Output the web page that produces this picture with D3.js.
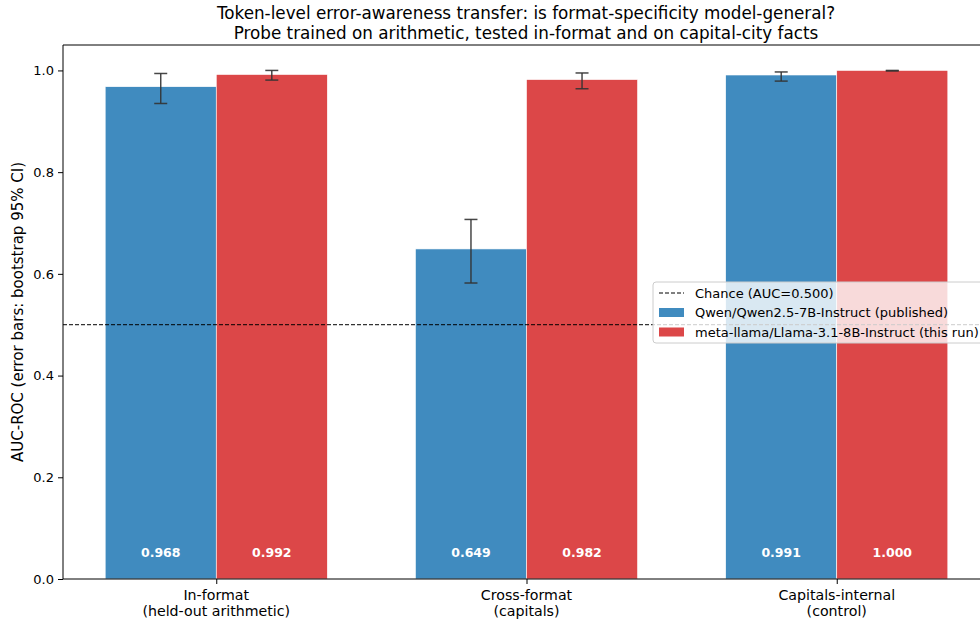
<!DOCTYPE html>
<html>
<head>
<meta charset="utf-8">
<script src="https://cdn.jsdelivr.net/npm/d3@7/dist/d3.min.js"></script>
<style>
  html, body { margin: 0; padding: 0; background: #fff; overflow: hidden; }
  svg { display: block; font-family: "DejaVu Sans", sans-serif; }
</style>
</head>
<body>
<svg id="chart" width="980" height="621"></svg>
<script>
// Probe evaluation settings (x categories)
const categories = ["In-format\n(held-out arithmetic)", "Cross-format\n(capitals)", "Capitals-internal\n(control)"];

// Models compared
const seriesNames = ["Qwen/Qwen2.5-7B-Instruct (published)", "meta-llama/Llama-3.1-8B-Instruct (this run)"];

// AUC-ROC per model and setting
const qwenAuc  = [0.968, 0.649, 0.991];
const llamaAuc = [0.992, 0.982, 1.000];

// Bootstrap 95% CI bounds
const qwenLow   = [0.935, 0.582, 0.979];
const qwenHigh  = [0.994, 0.707, 0.997];
const llamaLow  = [0.981, 0.964, 0.999];
const llamaHigh = [1.000, 0.995, 1.000];

const chanceLevel = 0.5;
const yTicks = [0.0, 0.2, 0.4, 0.6, 0.8, 1.0];

const colors = ["#408bbf", "#dc4748"];
const barWidth = 0.358;

const svg = d3.select("#chart");
const plot = { left: 63, right: 990, top: 45, bottom: 579 };

const x = d3.scaleLinear().domain([-0.494, 2.494]).range([plot.left, plot.right]);
const y = d3.scaleLinear().domain([0, 1.05]).range([plot.bottom, plot.top]);

const series = [
  { name: seriesNames[0], values: qwenAuc, low: qwenLow, high: qwenHigh, color: colors[0], offset: -barWidth / 2 },
  { name: seriesNames[1], values: llamaAuc, low: llamaLow, high: llamaHigh, color: colors[1], offset: barWidth / 2 }
];

const g = svg.append("g");

// Bars
series.forEach(s => {
  g.selectAll(null)
    .data(s.values)
    .enter()
    .append("rect")
    .attr("x", (d, i) => x(i + s.offset - barWidth / 2))
    .attr("width", x(barWidth) - x(0))
    .attr("y", d => y(d))
    .attr("height", d => y(0) - y(d))
    .attr("fill", s.color)
    .attr("stroke", "#ffffff")
    .attr("stroke-width", 0.6);
});

// Error bars
const capHalf = 6.5;
series.forEach(s => {
  s.values.forEach((v, i) => {
    const cx = x(i + s.offset);
    const eg = g.append("g").attr("stroke", "#333333").attr("stroke-opacity", 0.9).attr("stroke-width", 1.5);
    eg.append("line").attr("x1", cx).attr("x2", cx).attr("y1", y(s.low[i])).attr("y2", y(s.high[i]));
    eg.append("line").attr("x1", cx - capHalf).attr("x2", cx + capHalf).attr("y1", y(s.low[i])).attr("y2", y(s.low[i]));
    eg.append("line").attr("x1", cx - capHalf).attr("x2", cx + capHalf).attr("y1", y(s.high[i])).attr("y2", y(s.high[i]));
  });
});

// Value labels inside bars
series.forEach(s => {
  g.selectAll(null)
    .data(s.values)
    .enter()
    .append("text")
    .attr("x", (d, i) => x(i + s.offset))
    .attr("y", y(0.05))
    .attr("dy", "0.3em")
    .attr("text-anchor", "middle")
    .attr("fill", "#ffffff")
    .attr("font-weight", "bold")
    .attr("font-size", "12.5px")
    .text(d => d3.format(".3f")(d));
});

// Chance line
g.append("line")
  .attr("x1", plot.left).attr("x2", plot.right)
  .attr("y1", y(chanceLevel)).attr("y2", y(chanceLevel))
  .attr("stroke", "#000").attr("stroke-width", 1)
  .attr("stroke-dasharray", "4,2");

// Axes
const yAxis = d3.axisLeft(y).tickValues(yTicks).tickFormat(d3.format(".1f")).tickSize(5).tickPadding(4);
const yG = svg.append("g").attr("transform", `translate(${plot.left},0)`).call(yAxis);
yG.select(".domain").remove();
yG.selectAll("text").attr("font-size", "13px").attr("fill", "#000").attr("font-family", "DejaVu Sans, sans-serif");
yG.selectAll("line").attr("stroke", "#000");

const xAxis = d3.axisBottom(x).tickValues([0, 1, 2]).tickFormat("").tickSize(5);
const xG = svg.append("g").attr("transform", `translate(0,${plot.bottom})`).call(xAxis);
xG.select(".domain").remove();
xG.selectAll("line").attr("stroke", "#000");

categories.forEach((c, i) => {
  const t = svg.append("text")
    .attr("x", x(i))
    .attr("y", plot.bottom + 21)
    .attr("text-anchor", "middle")
    .attr("font-size", "14.2px")
    .attr("fill", "#000");
  c.split("\n").forEach((line, j) => {
    t.append("tspan").attr("x", x(i)).attr("dy", j === 0 ? 0 : 16).text(line);
  });
});

// Spines
svg.append("line").attr("x1", plot.left).attr("x2", plot.left).attr("y1", plot.top).attr("y2", plot.bottom).attr("stroke", "#000").attr("stroke-width", 1);
svg.append("line").attr("x1", plot.left).attr("x2", plot.right).attr("y1", plot.bottom).attr("y2", plot.bottom).attr("stroke", "#000").attr("stroke-width", 1);
svg.append("line").attr("x1", plot.left).attr("x2", plot.right).attr("y1", plot.top).attr("y2", plot.top).attr("stroke", "#000").attr("stroke-width", 1);

// Y label
svg.append("text")
  .attr("transform", `translate(23,${(plot.top + plot.bottom) / 2}) rotate(-90)`)
  .attr("text-anchor", "middle")
  .attr("font-size", "15px")
  .attr("fill", "#000")
  .text("AUC-ROC (error bars: bootstrap 95% CI)");

// Title
const title = ["Token-level error-awareness transfer: is format-specificity model-general?",
               "Probe trained on arithmetic, tested in-format and on capital-city facts"];
title.forEach((line, j) => {
  svg.append("text")
    .attr("x", 526)
    .attr("y", 19 + j * 19.5)
    .attr("text-anchor", "middle")
    .attr("font-size", "16.8px")
    .attr("fill", "#000")
    .text(line);
});

// Legend
const lg = svg.append("g").attr("transform", "translate(653,282)");
lg.append("rect")
  .attr("x", 0).attr("y", 0).attr("width", 340).attr("height", 61)
  .attr("rx", 3)
  .attr("fill", "#fff").attr("fill-opacity", 0.8)
  .attr("stroke", "#cccccc").attr("stroke-width", 1);
const legendItems = [
  { label: "Chance (AUC=0.500)", type: "line" },
  { label: seriesNames[0], type: "rect", color: colors[0] },
  { label: seriesNames[1], type: "rect", color: colors[1] }
];
legendItems.forEach((it, i) => {
  const cy = 11 + i * 19.5;
  if (it.type === "line") {
    lg.append("line").attr("x1", 6).attr("x2", 31).attr("y1", cy).attr("y2", cy)
      .attr("stroke", "#000").attr("stroke-width", 1).attr("stroke-dasharray", "4,2");
  } else {
    lg.append("rect").attr("x", 6).attr("y", cy - 4.5).attr("width", 25).attr("height", 9).attr("fill", it.color);
  }
  lg.append("text").attr("x", 42).attr("y", cy).attr("dy", "0.35em")
    .attr("font-size", "13px").attr("fill", "#000").text(it.label);
});
</script>
</body>
</html>
